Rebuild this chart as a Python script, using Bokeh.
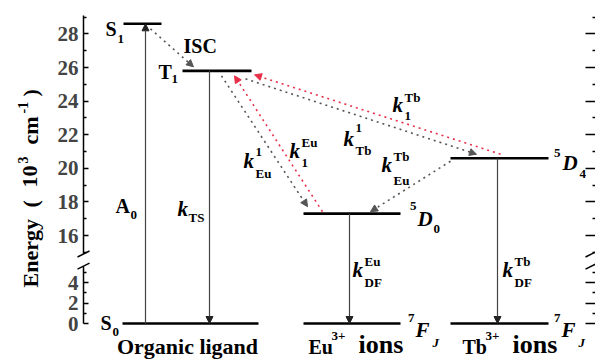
import numpy as np
from bokeh.plotting import figure
from bokeh.models import Range1d, LinearAxis, FixedTicker, ColumnDataSource, Arrow, NormalHead
from bokeh.core.properties import value
from bokeh.embed import file_html
from bokeh.resources import INLINE

# ---------------- data (energies in 10^3 cm^-1) ----------------
ligand_levels = ["S0", "T1", "S1"]
ligand_E = [0.0, 25.8, 28.6]
eu_levels = ["7FJ", "5D0"]
eu_E = [0.0, 17.3]
tb_levels = ["7FJ", "5D4"]
tb_E = [0.0, 20.6]
categories = ["Organic ligand", "Eu", "Tb"]

lower_ticks = [0, 2, 4]
lower_minor = [1, 3, 5]
lower_tick_labels = ["0", "2", "4"]
upper_ticks = [16, 18, 20, 22, 24, 26, 28]
upper_minor = [15, 17, 19, 21, 23, 25, 27, 29]
upper_tick_labels = ["16", "18", "20", "22", "24", "26", "28"]

E = {"S0": ligand_E[0], "T1": ligand_E[1], "S1": ligand_E[2],
     "Eu7FJ": eu_E[0], "Eu5D0": eu_E[1], "Tb7FJ": tb_E[0], "Tb5D4": tb_E[1]}

# radiative transitions (solid): from, to
solid_from = ["S0", "T1", "Eu5D0", "Tb5D4"]
solid_to = ["S1", "S0", "Eu7FJ", "Tb7FJ"]
# non-radiative transfers (dotted): from, to, colour group
dot_from = ["S1", "T1", "Eu5D0", "T1", "Tb5D4", "Tb5D4"]
dot_to = ["T1", "Eu5D0", "T1", "Tb5D4", "T1", "Eu5D0"]
dot_kind = ["k", "k", "r", "k", "r", "k"]

# ---------------- broken energy axis ----------------
BREAK_LO, BREAK_HI, AXIS_TOP = 5.6, 14.9, 29.1
LOW_SCALE, HIGH_SCALE, U16 = 10.25, 16.8, 88.0
Y0 = 323.0


def u(e):
    e = np.asarray(e, dtype=float)
    return np.where(e < 10, e * LOW_SCALE, U16 + (e - 16) * HIGH_SCALE)


def sy(row):
    return Y0 - row


FONT = "Liberation Serif"

p = figure(width=595, height=359, x_range=Range1d(0, 595), y_range=Range1d(Y0 - 359, Y0),
           x_axis_type=None, y_axis_type=None, toolbar_location=None,
           output_backend="svg", min_border=0, outline_line_color=None)
p.background_fill_color = "white"
p.border_fill_color = "white"


def make_axis(major, minor, labels, lo, hi, loc, show_labels, tin, tmin, line=True):
    ax = LinearAxis(fixed_location=loc, bounds=(float(u(lo)), float(u(hi))),
                    ticker=FixedTicker(ticks=[float(v) for v in u(major)],
                                       minor_ticks=[float(v) for v in u(minor)]))
    ax.major_label_overrides = {float(v): s for v, s in zip(u(major), labels)}
    ax.axis_line_color = "black" if line else None
    ax.axis_line_width = 1.5
    ax.major_tick_in = tin
    ax.major_tick_out = 0
    ax.minor_tick_in = tmin
    ax.minor_tick_out = 0
    ax.major_tick_line_width = 1.5
    ax.minor_tick_line_width = 1.5
    ax.major_label_text_font = FONT
    ax.major_label_text_font_style = "bold"
    ax.major_label_text_font_size = "21px"
    ax.major_label_standoff = 5
    if not show_labels:
        ax.major_label_text_color = None
    return ax


p.add_layout(make_axis(lower_ticks, lower_minor, lower_tick_labels, 0, BREAK_LO, 83, True, 5, 3), "left")
p.add_layout(make_axis(upper_ticks, upper_minor, upper_tick_labels, BREAK_HI, AXIS_TOP, 83, True, 5, 3), "left")
p.add_layout(make_axis(lower_ticks, lower_minor, lower_tick_labels, 0, BREAK_LO, 596, False, 11, 4, line=False), "right")
p.add_layout(make_axis(upper_ticks, upper_minor, upper_tick_labels, BREAK_HI, AXIS_TOP, 596, False, 11, 4, line=False), "right")

# break marks
bx = [83, 83, 591, 591]
bu = [float(u(BREAK_HI)), float(u(BREAK_LO)), float(u(BREAK_HI)), float(u(BREAK_LO))]
p.segment(x0=[x - 6 for x in bx], y0=[v - 3 for v in bu], x1=[x + 6 for x in bx], y1=[v + 3 for v in bu],
          line_color="black", line_width=1.5)

# ---------------- energy levels ----------------
lev_x0 = {"S0": 122, "T1": 182, "S1": 123, "Eu5D0": 303, "Eu7FJ": 303, "Tb5D4": 450, "Tb7FJ": 450}
lev_x1 = {"S0": 258, "T1": 251, "S1": 161, "Eu5D0": 400, "Eu7FJ": 400, "Tb5D4": 548, "Tb7FJ": 548}
keys = list(E.keys())
p.segment(x0=[lev_x0[k] for k in keys], y0=u([E[k] for k in keys]),
          x1=[lev_x1[k] for k in keys], y1=u([E[k] for k in keys]),
          line_color="black", line_width=2.6)

# ---------------- solid transitions ----------------
solid_x = [145, 209, 349, 497]
src = ColumnDataSource(dict(x0=solid_x, x1=solid_x,
                            y0=u([E[k] for k in solid_from]), y1=u([E[k] for k in solid_to])))
p.add_layout(Arrow(source=src, x_start="x0", y_start="y0", x_end="x1", y_end="y1",
                   line_color="#444444", line_width=1.2,
                   end=NormalHead(size=7, fill_color="#222222", line_color="#222222", line_width=1)))

# ---------------- dotted transfers ----------------
dot_x0 = [150, 221, 322, 245, 500, 450]
dot_x1 = [193, 307, 234, 476, 254, 370]
dot_dy0 = [5, 5, -2, 8, -4, 3]     # px below the start level
dot_dy1 = [-4, -7, 5, -4, 4, -2]   # px below the end level
colors = {"k": "#555555", "r": "#e8304a"}
for kind in ["k", "r"]:
    idx = [i for i, k in enumerate(dot_kind) if k == kind]
    s = ColumnDataSource(dict(
        x0=[dot_x0[i] for i in idx], x1=[dot_x1[i] for i in idx],
        y0=[float(u(E[dot_from[i]])) - dot_dy0[i] for i in idx],
        y1=[float(u(E[dot_to[i]])) - dot_dy1[i] for i in idx]))
    c = colors[kind]
    p.add_layout(Arrow(source=s, x_start="x0", y_start="y0", x_end="x1", y_end="y1",
                       line_color=c, line_width=1.6, line_dash="2 4",
                       end=NormalHead(size=7, fill_color=c, line_color=c, line_width=1)))


# ---------------- texts ----------------
MID = 0.34  # distance from baseline to the em-box middle, in em


def txt(x, row, s, size, style="bold", align="left", angle=0.0, color="black"):
    # (x, row) is the baseline point in screen pixels
    if angle == 0.0:
        yy, xx = sy(row - MID * size), x
    else:
        yy, xx = sy(row), x - MID * size
    p.text(x=[xx], y=[yy], text=[s], text_font=value(FONT), text_font_size=f"{size}px",
           text_font_style=style, text_align=align, text_baseline="middle",
           angle=angle, text_color=color)


def row_of(key):
    return Y0 - float(u(E[key]))


def klabel(x, brow, sup=None, sub=None, dx=12, up=12, down=9):
    txt(x, brow, "k", 21, "bold italic")
    if sup:
        txt(x + dx, brow - up, sup, 13)
    if sub:
        txt(x + dx, brow + down, sub, 13)


# ligand levels
txt(105, row_of("S1") + 12, "S", 20)
txt(117, row_of("S1") + 20, "1", 13)
txt(158, row_of("T1") + 8, "T", 20)
txt(171, row_of("T1") + 13, "1", 13)
txt(100, row_of("S0") + 6, "S", 20)
txt(112, row_of("S0") + 13, "0", 13)
txt(183, 52, "ISC", 20)
txt(115, 212, "A", 20)
txt(130, 219, "0", 13)
txt(177, 216, "k", 21, "bold italic")
txt(188, 221, "TS", 13)

# lanthanide levels
txt(416, row_of("Eu5D0") - 3, "5", 13, align="right")
txt(417, row_of("Eu5D0") + 12, "D", 21, "bold italic")
txt(433, row_of("Eu5D0") + 20, "0", 13)
txt(414, row_of("Eu7FJ") - 1, "7", 13, align="right")
txt(415, row_of("Eu7FJ") + 14, "F", 21, "bold italic")
txt(432, row_of("Eu7FJ") + 23, "J", 13, "bold italic")
txt(560, row_of("Tb5D4") - 1, "5", 13, align="right")
txt(562, row_of("Tb5D4") + 12, "D", 21, "bold italic")
txt(579, row_of("Tb5D4") + 20, "4", 13)
txt(560, row_of("Tb7FJ") - 1, "7", 13, align="right")
txt(561, row_of("Tb7FJ") + 14, "F", 21, "bold italic")
txt(578, row_of("Tb7FJ") + 23, "J", 13, "bold italic")

# rate constants
klabel(352, 277, "Eu", "DF")
klabel(502, 277, "Tb", "DF")
klabel(243, 168, "1", "Eu")
klabel(289, 158, "Eu", "1")
klabel(343, 146, "1", "Tb", up=14, down=8)
klabel(381, 172, "Tb", "Eu", up=12, down=12)
klabel(392, 112, "Tb", "1", up=11, down=8)

# category labels
CAT_ROW = 353
txt(187, CAT_ROW, categories[0], 22, align="center")
txt(308, CAT_ROW, categories[1], 20)
txt(331, CAT_ROW - 13, "3+", 13)
txt(358, CAT_ROW, "ions", 26)
txt(462, CAT_ROW, categories[2], 20)
txt(485, CAT_ROW - 13, "3+", 13)
txt(512, CAT_ROW, "ions", 26)

# axis title (rotated, reading upwards)
A = np.pi / 2
txt(37, 287, "Energy", 22, angle=A)
txt(37, 207, "(", 22, angle=A)
txt(37, 187, "10", 22, angle=A)
txt(27, 163, "3", 14, angle=A)
txt(37, 144, "cm", 22, angle=A)
txt(27, 113, "-1", 14, angle=A)
txt(37, 96, ")", 22, angle=A)

open("out.html", "w").write(file_html(p, INLINE))
